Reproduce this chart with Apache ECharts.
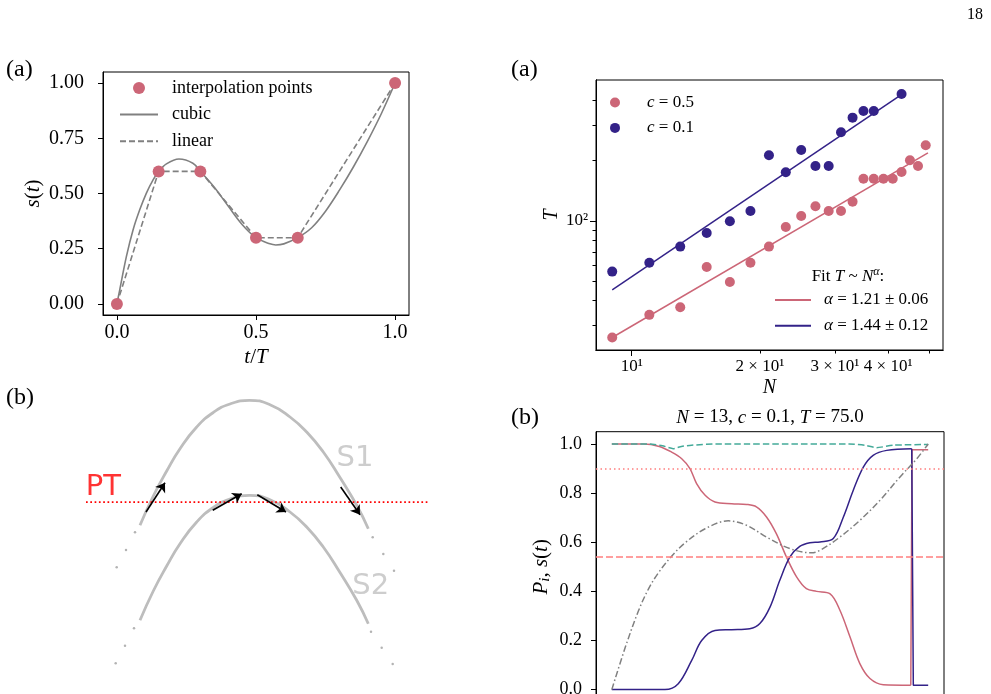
<!DOCTYPE html>
<html>
<head>
<meta charset="utf-8">
<title>schedule interpolation and scaling</title>
<script src="https://cdn.jsdelivr.net/npm/echarts@6.0.0/dist/echarts.min.js"></script>
<style>
  html, body { margin: 0; padding: 0; background: #fff; }
  #main { width: 991px; height: 694px; }
</style>
</head>
<body>
<div id="main"></div>
<script>
// (a) left: schedule s(t) through the interpolation points
const interpT = [0, 0.15, 0.3, 0.5, 0.65, 1.0];
const interpS = [0, 0.6, 0.6, 0.3, 0.3, 1.0];
const cubicT = [0, 0.01, 0.034, 0.058, 0.082, 0.106, 0.13, 0.15, 0.178, 0.223, 0.273, 0.3, 0.35, 0.4, 0.45, 0.5, 0.55, 0.571, 0.6, 0.65, 0.7, 0.75, 0.8, 0.85, 0.9, 0.95, 1.0];
const cubicS = [0, 0.063, 0.214, 0.335, 0.426, 0.502, 0.562, 0.6, 0.634, 0.656, 0.637, 0.6, 0.528, 0.443, 0.36, 0.3, 0.272, 0.267, 0.272, 0.3, 0.345, 0.42, 0.515, 0.62, 0.735, 0.86, 1.0];

// (a) right: T against N, log-log
const nPink = [9, 11, 13, 15, 17, 19, 21, 23, 25, 27, 29, 31, 33, 35, 37, 39, 41, 43, 45, 47, 49];
const tPink = [26.2, 34.0, 37.1, 58.9, 49.6, 61.9, 74.5, 93.3, 105.9, 118.4, 112.1, 112.1, 124.9, 162.5, 162.5, 162.5, 162.5, 175.7, 200.8, 188.1, 238.6];
const nBlue = [9, 11, 13, 15, 17, 19, 21, 23, 25, 27, 29, 31, 33, 35, 37, 43];
const tBlue = [55.9, 61.9, 74.5, 87.1, 99.6, 112.1, 212.9, 175.0, 226, 188.1, 188.1, 277.1, 328, 354, 354, 430.6];
const fitPinkN = [9, 49.6], fitPinkT = [26.2, 219];
const fitBlueN = [9, 43.4], fitBlueT = [45.3, 433];
const nLabelVals = [10, 20, 30, 40];
const nLabelText = ['10¹', '2 × 10¹', '3 × 10¹', '4 × 10¹'];
const nMinor = [20, 30, 40, 50];
const tMinor = [30, 40, 50, 60, 70, 80, 90, 200, 300, 400];

// (b) right: populations and schedule for N = 13
const pinkT = [0, 0.1, 0.15, 0.189, 0.221, 0.247, 0.268, 0.295, 0.326, 0.379, 0.426, 0.457, 0.489, 0.52, 0.552, 0.584, 0.615, 0.647, 0.69, 0.721, 0.753, 0.784, 0.816, 0.858, 0.945];
const pinkP = [1.0, 1.0, 0.99, 0.967, 0.94, 0.9, 0.839, 0.791, 0.764, 0.757, 0.754, 0.744, 0.703, 0.635, 0.54, 0.459, 0.411, 0.4, 0.39, 0.323, 0.214, 0.106, 0.045, 0.02, 0.018];
const pinkStepT = [0.945, 0.949, 0.949, 1.0];
const pinkStepP = [0.018, 0.018, 0.977, 0.977];
const blueT = [0, 0.168, 0.21, 0.2525, 0.284, 0.326, 0.379, 0.436, 0.468, 0.5, 0.531, 0.563, 0.594, 0.626, 0.658, 0.7, 0.732, 0.763, 0.795, 0.826, 0.869, 0.948];
const blueP = [0, 0, 0.024, 0.119, 0.2, 0.241, 0.244, 0.248, 0.269, 0.336, 0.445, 0.54, 0.583, 0.598, 0.601, 0.615, 0.703, 0.811, 0.906, 0.954, 0.974, 0.981];
const blueStepT = [0.948, 0.953, 0.953, 1.0];
const blueStepP = [0.981, 0.981, 0.018, 0.018];
const tealT = [0, 0.12, 0.16, 0.194, 0.22, 0.252, 0.33, 0.75, 0.8, 0.837, 0.89, 1.0];
const tealP = [1.0, 1.0, 0.993, 0.981, 0.99, 0.995, 1.0, 1.0, 0.995, 0.985, 0.995, 0.998];
const schedT = [0, 0.042, 0.084, 0.116, 0.147, 0.189, 0.231, 0.295, 0.368, 0.426, 0.489, 0.563, 0.63, 0.658, 0.721, 0.784, 0.848, 0.911, 0.964, 1.0];
const schedS = [0, 0.17, 0.32, 0.41, 0.475, 0.543, 0.597, 0.655, 0.687, 0.669, 0.621, 0.574, 0.557, 0.567, 0.621, 0.689, 0.771, 0.866, 0.94, 1.0];
const levelHigh = 0.9;
const levelLow = 0.544;
const pTicks = [0, 0.2, 0.4, 0.6, 0.8, 1.0];

// (b) left: sketch of the two levels (sketch units, y downwards)
const s1X = [140, 153.3, 166.7, 180, 196.7, 213.3, 230, 249.3, 270, 290, 306.7, 323.3, 340, 356.7, 368.3];
const s1Y = [145.3, 116, 91, 68.7, 47, 32.5, 24, 20.3, 24.7, 37, 52, 72, 97.5, 125.3, 148.7];
const s2X = [140, 153.3, 166.7, 180, 196.7, 213.3, 230, 249.3, 270, 290, 306.7, 323.3, 340, 356.7, 368.3];
const s2Y = [240.3, 211, 186, 163.7, 142, 127.5, 119, 115.3, 119.7, 132, 147, 167, 192.5, 220.3, 243.7];
const ptX = [86, 430];
const ptY = [122.2, 122.2];
const arrowFrom = [[146, 132], [340.7, 107], [212.7, 130.3], [257.3, 114.7]];
const arrowTo = [[165, 102.7], [360, 134.7], [241.7, 113.7], [286, 132]];
const dotX = [135, 126, 116.7, 372.7, 383.3, 394, 134, 125, 115.7, 371, 381.7, 392.7];
const dotY = [152.3, 170, 187.3, 157.3, 174, 190.7, 248.3, 265.7, 283.3, 251.7, 267.7, 284];
const sketchNames = ['PT', 'S1', 'S2'];
const sketchX = [103.3, 355, 370.8];
const sketchY = [107.5, 78, 206];
const sketchColors = ['#ff0000', '#c0c0c0', '#c0c0c0'];

const SERIF = "'Liberation Serif', 'DejaVu Serif', serif";
const SANS = "'DejaVu Sans', 'Liberation Sans', sans-serif";
const PINK = '#cc6677', NAVY = '#332288', TEAL = '#44aa99', GREY = '#808080', SALMON = '#ff7f7f';

const lg = Math.log10;
const zip = (xs, ys) => xs.map((x, i) => [x, ys[i]]);
const logZip = (xs, ys) => xs.map((x, i) => [lg(x), lg(ys[i])]);

function math(size) {
    return {
        i: {fontFamily: SERIF, fontStyle: 'italic', fontSize: size, color: '#000'},
        sup: {fontFamily: SERIF, fontStyle: 'italic', fontSize: Math.round(size * 0.7), color: '#000', padding: [0, 0, Math.round(size * 0.5), 0]},
        sub: {fontFamily: SERIF, fontStyle: 'italic', fontSize: Math.round(size * 0.7), color: '#000', padding: [Math.round(size * 0.45), 0, 0, 0]}
    };
}

function frameAxis(extra) {
    return Object.assign({
        type: 'value',
        axisLine: {show: true, onZero: false, lineStyle: {color: '#000', width: 1}},
        splitLine: {show: false},
        nameTextStyle: {color: '#000', fontFamily: SERIF}
    }, extra);
}

const tickLine = {color: '#000', width: 1};
// legend entries for lines: only the line sample, no marker
const lineOnly = name => ({name: name, itemStyle: {opacity: 0}});

const option = {
    animation: false,
    backgroundColor: '#fff',
    title: [
        {text: '(a)', left: 6, top: 58, padding: 0, textStyle: {fontFamily: SERIF, fontSize: 24, fontWeight: 'normal', color: '#000'}},
        {text: '(a)', left: 511, top: 58, padding: 0, textStyle: {fontFamily: SERIF, fontSize: 24, fontWeight: 'normal', color: '#000'}},
        {text: '(b)', left: 6, top: 386, padding: 0, textStyle: {fontFamily: SERIF, fontSize: 24, fontWeight: 'normal', color: '#000'}},
        {text: '(b)', left: 511, top: 406, padding: 0, textStyle: {fontFamily: SERIF, fontSize: 24, fontWeight: 'normal', color: '#000'}},
        {text: '18', left: 967, top: 7, padding: 0, textStyle: {fontFamily: SERIF, fontSize: 16, fontWeight: 'normal', color: '#000'}},
        {
            text: '{i|N} = 13, {i|c} = 0.1, {i|T} = 75.0', left: 770, top: 408, textAlign: 'center', padding: 0,
            textStyle: {fontFamily: SERIF, fontSize: 19, fontWeight: 'normal', color: '#000', rich: math(19)}
        },
        {
            text: 'Fit {i|T} ~ {i|N}{sup|α}:', left: 848, top: 266, textAlign: 'center', padding: 0,
            textStyle: {fontFamily: SERIF, fontSize: 17, fontWeight: 'normal', color: '#000', rich: math(17)}
        }
    ],
    legend: [
        {
            data: ['interpolation points', lineOnly('cubic'), lineOnly('linear')],
            orient: 'vertical', left: 119, top: 79, padding: 0,
            itemWidth: 38, itemHeight: 12, itemGap: 8.6, selectedMode: false,
            textStyle: {fontFamily: SERIF, fontSize: 18, color: '#000', padding: [0, 0, 0, 9]}
        },
        {
            data: ['c = 0.5', 'c = 0.1'],
            orient: 'vertical', left: 610, top: 94, padding: 0,
            itemWidth: 36, itemHeight: 10, itemGap: 8.4, selectedMode: false,
            formatter: name => name.replace('c', '{i|c}'),
            textStyle: {fontFamily: SERIF, fontSize: 17, color: '#000', padding: [0, 0, 0, 9], rich: math(17)}
        },
        {
            data: [lineOnly('α = 1.21 ± 0.06'), lineOnly('α = 1.44 ± 0.12')],
            orient: 'vertical', left: 774, top: 291.5, padding: 0,
            itemWidth: 36, itemHeight: 10, itemGap: 8.7, selectedMode: false,
            formatter: name => name.replace('α', '{i|α}'),
            textStyle: {fontFamily: SERIF, fontSize: 17, color: '#000', padding: [0, 0, 0, 8], rich: math(17)}
        }
    ],
    grid: [
        {left: 103, top: 72, width: 306, height: 243, show: true, borderColor: '#000', borderWidth: 1, containLabel: false, outerBoundsMode: 'none'},
        {left: 596, top: 80, width: 347, height: 270, show: true, borderColor: '#000', borderWidth: 1, containLabel: false, outerBoundsMode: 'none'},
        {left: 596, top: 431.7, width: 348, height: 270.2, show: true, borderColor: '#000', borderWidth: 1, containLabel: false, outerBoundsMode: 'none'},
        {left: 0, top: 380, width: 440, height: 314, show: false, containLabel: false, outerBoundsMode: 'none'}
    ],
    xAxis: [
        frameAxis({
            gridIndex: 0, min: -0.05, max: 1.05,
            axisTick: {show: true, inside: false, length: 5, lineStyle: tickLine, customValues: [0, 0.5, 1.0]},
            axisLabel: {customValues: [0, 0.5, 1.0], formatter: v => v.toFixed(1), fontFamily: SERIF, fontSize: 20, color: '#000', margin: 8},
            name: '{i|t}/{i|T}', nameLocation: 'middle', nameGap: 32,
            nameTextStyle: {color: '#000', fontFamily: SERIF, fontSize: 21, rich: math(21)}
        }),
        frameAxis({
            gridIndex: 1, min: lg(8.245), max: lg(53.8), position: 'bottom',
            axisTick: {show: true, inside: false, length: 6, lineStyle: tickLine, customValues: [lg(10)]},
            axisLabel: {
                customValues: nLabelVals.map(lg),
                formatter: v => nLabelText[nLabelVals.findIndex(n => Math.abs(lg(n) - v) < 1e-6)] || '',
                fontFamily: SERIF, fontSize: 17, color: '#000', margin: 8
            },
            name: '{i|N}', nameLocation: 'middle', nameGap: 28,
            nameTextStyle: {color: '#000', fontFamily: SERIF, fontSize: 20, rich: math(20)}
        }),
        frameAxis({
            gridIndex: 1, min: lg(8.245), max: lg(53.8), position: 'bottom',
            axisTick: {show: true, inside: false, length: 3.5, lineStyle: tickLine, customValues: nMinor.map(lg)},
            axisLabel: {show: false}
        }),
        frameAxis({
            gridIndex: 2, min: -0.05, max: 1.05,
            axisTick: {show: false}, axisLabel: {show: false}
        }),
        {gridIndex: 3, type: 'value', min: 0, max: 440, show: false}
    ],
    yAxis: [
        frameAxis({
            gridIndex: 0, min: -0.05, max: 1.05,
            axisTick: {show: true, inside: false, length: 5, lineStyle: tickLine, customValues: [0, 0.25, 0.5, 0.75, 1.0]},
            axisLabel: {customValues: [0, 0.25, 0.5, 0.75, 1.0], formatter: v => v.toFixed(2), fontFamily: SERIF, fontSize: 20, color: '#000', margin: 19},
            name: '{i|s}({i|t})', nameLocation: 'middle', nameRotate: 90, nameGap: 59,
            nameTextStyle: {color: '#000', fontFamily: SERIF, fontSize: 21, rich: math(21)}
        }),
        frameAxis({
            gridIndex: 1, min: 1.356, max: 2.7038, position: 'left',
            axisTick: {show: true, inside: false, length: 6, lineStyle: tickLine, customValues: [2]},
            axisLabel: {customValues: [2], formatter: () => '10²', fontFamily: SERIF, fontSize: 17, color: '#000', margin: 8},
            name: '{i|T}', nameLocation: 'middle', nameRotate: 90, nameGap: 31,
            nameTextStyle: {color: '#000', fontFamily: SERIF, fontSize: 20, rich: math(20)}
        }),
        frameAxis({
            gridIndex: 1, min: 1.356, max: 2.7038, position: 'left',
            axisTick: {show: true, inside: false, length: 3.5, lineStyle: tickLine, customValues: tMinor.map(lg)},
            axisLabel: {show: false}
        }),
        frameAxis({
            gridIndex: 2, min: -0.05, max: 1.05,
            axisTick: {show: true, inside: false, length: 5, lineStyle: tickLine, customValues: pTicks},
            axisLabel: {customValues: pTicks, formatter: v => v.toFixed(1), fontFamily: SERIF, fontSize: 18, color: '#000', margin: 14},
            name: '{i|P}{sub|i}, {i|s}({i|t})', nameLocation: 'middle', nameRotate: 90, nameGap: 43,
            nameTextStyle: {color: '#000', fontFamily: SERIF, fontSize: 21, rich: math(21)}
        }),
        {gridIndex: 3, type: 'value', min: 0, max: 314, inverse: true, show: false}
    ],
    series: [
        // (a) left
        {
            name: 'cubic', type: 'line', xAxisIndex: 0, yAxisIndex: 0,
            data: zip(cubicT, cubicS), smooth: 0.35, symbol: 'none',
            lineStyle: {color: GREY, width: 1.6}, itemStyle: {color: GREY}, z: 2
        },
        {
            name: 'linear', type: 'line', xAxisIndex: 0, yAxisIndex: 0,
            data: zip(interpT, interpS), symbol: 'none',
            lineStyle: {color: GREY, width: 1.6, type: [6, 3]}, itemStyle: {color: GREY}, z: 2
        },
        {
            name: 'interpolation points', type: 'scatter', xAxisIndex: 0, yAxisIndex: 0,
            data: zip(interpT, interpS), symbolSize: 12, itemStyle: {color: PINK, opacity: 1}, z: 3
        },
        // (a) right
        {
            name: 'c = 0.5', type: 'scatter', xAxisIndex: 1, yAxisIndex: 1,
            data: logZip(nPink, tPink), symbolSize: 10, itemStyle: {color: PINK, opacity: 1}, z: 3
        },
        {
            name: 'c = 0.1', type: 'scatter', xAxisIndex: 1, yAxisIndex: 1,
            data: logZip(nBlue, tBlue), symbolSize: 10, itemStyle: {color: NAVY, opacity: 1}, z: 3
        },
        {
            name: 'α = 1.21 ± 0.06', type: 'line', xAxisIndex: 1, yAxisIndex: 1,
            data: logZip(fitPinkN, fitPinkT), symbol: 'none',
            lineStyle: {color: PINK, width: 1.5}, itemStyle: {color: PINK}, z: 2
        },
        {
            name: 'α = 1.44 ± 0.12', type: 'line', xAxisIndex: 1, yAxisIndex: 1,
            data: logZip(fitBlueN, fitBlueT), symbol: 'none',
            lineStyle: {color: NAVY, width: 1.5}, itemStyle: {color: NAVY}, z: 2
        },
        // (b) right
        {
            name: 'levels', type: 'line', xAxisIndex: 3, yAxisIndex: 3, data: [], symbol: 'none',
            markLine: {
                silent: true, symbol: 'none', label: {show: false},
                data: [
                    {yAxis: levelHigh, lineStyle: {color: SALMON, width: 1.5, type: [1.5, 3]}},
                    {yAxis: levelLow, lineStyle: {color: SALMON, width: 1.5, type: [7, 3]}}
                ]
            }
        },
        {
            name: 'P pink', type: 'line', xAxisIndex: 3, yAxisIndex: 3,
            data: zip(pinkT, pinkP), smooth: 0.35, symbol: 'none',
            lineStyle: {color: PINK, width: 1.5}, z: 2
        },
        {
            name: 'P pink end', type: 'line', xAxisIndex: 3, yAxisIndex: 3,
            data: zip(pinkStepT, pinkStepP), symbol: 'none',
            lineStyle: {color: PINK, width: 1.5}, z: 2
        },
        {
            name: 'P navy', type: 'line', xAxisIndex: 3, yAxisIndex: 3,
            data: zip(blueT, blueP), smooth: 0.35, symbol: 'none',
            lineStyle: {color: NAVY, width: 1.5}, z: 3
        },
        {
            name: 'P navy end', type: 'line', xAxisIndex: 3, yAxisIndex: 3,
            data: zip(blueStepT, blueStepP), symbol: 'none',
            lineStyle: {color: NAVY, width: 1.5}, z: 3
        },
        {
            name: 'P sum', type: 'line', xAxisIndex: 3, yAxisIndex: 3,
            data: zip(tealT, tealP), smooth: 0.2, symbol: 'none',
            lineStyle: {color: TEAL, width: 1.5, type: [6.5, 3]}, z: 4
        },
        {
            name: 's(t)', type: 'line', xAxisIndex: 3, yAxisIndex: 3,
            data: zip(schedT, schedS), smooth: 0.35, symbol: 'none',
            lineStyle: {color: GREY, width: 1.5, type: [6.5, 2.6, 1.5, 2.6]}, z: 4
        },
        // (b) left sketch
        {
            name: 'S1 level', type: 'line', xAxisIndex: 4, yAxisIndex: 4,
            data: zip(s1X, s1Y), smooth: 0.5, symbol: 'none',
            lineStyle: {color: '#bdbdbd', width: 2.8}, z: 2
        },
        {
            name: 'S2 level', type: 'line', xAxisIndex: 4, yAxisIndex: 4,
            data: zip(s2X, s2Y), smooth: 0.5, symbol: 'none',
            lineStyle: {color: '#bdbdbd', width: 2.8}, z: 2
        },
        {
            name: 'PT line', type: 'line', xAxisIndex: 4, yAxisIndex: 4,
            data: zip(ptX, ptY), symbol: 'none',
            lineStyle: {color: '#ff0000', width: 1.8, type: [1.7, 2.6]}, z: 3
        },
        {
            name: 'continuation', type: 'scatter', xAxisIndex: 4, yAxisIndex: 4,
            data: zip(dotX, dotY), symbolSize: 2.5, itemStyle: {color: '#a0a0a0'}, z: 2
        },
        {
            name: 'moves', type: 'lines', coordinateSystem: 'cartesian2d', xAxisIndex: 4, yAxisIndex: 4,
            data: arrowFrom.map((p, i) => ({coords: [p, arrowTo[i]]})),
            symbol: ['none', 'arrow'], symbolSize: 9,
            lineStyle: {color: '#000', width: 1.6, opacity: 1, curveness: 0}, z: 5
        },
        {
            name: 'sketch labels', type: 'scatter', xAxisIndex: 4, yAxisIndex: 4, symbolSize: 0,
            data: sketchNames.map((n, i) => ({
                name: n, value: [sketchX[i], sketchY[i]],
                label: {color: sketchColors[i]}
            })),
            label: {show: true, position: 'inside', formatter: '{b}', fontFamily: SANS, fontSize: 29},
            z: 6
        }
    ]
};

const chart = echarts.init(document.getElementById('main'));
chart.setOption(option);
</script>
</body>
</html>
